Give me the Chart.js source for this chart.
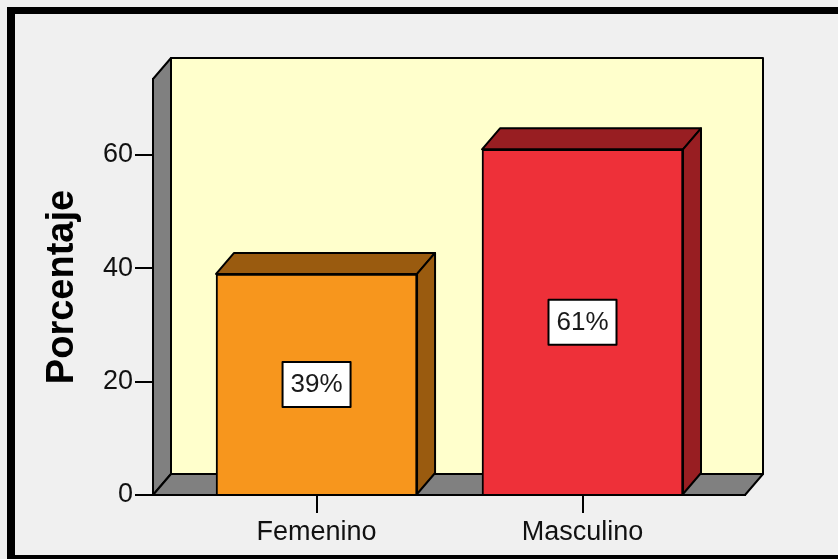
<!DOCTYPE html>
<html>
<head>
<meta charset="utf-8">
<title>Porcentaje por sexo</title>
<script src="https://cdn.jsdelivr.net/npm/chart.js@4.4.1/dist/chart.umd.min.js"></script>
<style>
  html, body { margin: 0; padding: 0; background: #f0f0f0; }
  #myChart { display: block; }
</style>
</head>
<body>
<canvas id="myChart" width="838" height="559"></canvas>
<script>
var categories = ['Femenino', 'Masculino'];
var percentages = [39, 61];
var valueLabels = ['39%', '61%'];
var yTicks = [0, 20, 40, 60];

var frontColors = ['#f7961d', '#ee3039'];
var darkColors = ['#9a5b0f', '#981e22'];
var fontFamily = '"Liberation Sans", Arial, sans-serif';

// depth of the 3d effect, in pixels.
var depthX = 18;
var depthY = -21;

function polygon(ctx, points, fill) {
  ctx.beginPath();
  ctx.moveTo(points[0][0], points[0][1]);
  for (var i = 1; i < points.length; i++) {
    ctx.lineTo(points[i][0], points[i][1]);
  }
  ctx.closePath();
  ctx.fillStyle = fill;
  ctx.fill();
  ctx.stroke();
}

// background, outer frame and the walls behind the bars.
var wallsPlugin = {
  id: 'walls',
  beforeDraw: function (chart) {
    var ctx = chart.ctx;
    var a = chart.chartArea;
    var w = chart.width, h = chart.height;

    ctx.save();
    ctx.fillStyle = '#f0f0f0';
    ctx.fillRect(0, 0, w, h);
    ctx.fillStyle = '#000';
    ctx.fillRect(7, 7, w - 7, 7);
    ctx.fillRect(7, 7, 8, h - 7);
    ctx.fillRect(7, h - 4, w - 7, 4);

    ctx.lineWidth = 2;
    ctx.strokeStyle = '#000';
    ctx.lineJoin = 'round';

    ctx.fillStyle = '#ffffcc';
    ctx.fillRect(a.left + depthX, a.top + depthY, a.right - a.left, a.bottom - a.top);
    ctx.strokeRect(a.left + depthX, a.top + depthY, a.right - a.left, a.bottom - a.top);

    polygon(ctx, [[a.left, a.top], [a.left + depthX, a.top + depthY],
      [a.left + depthX, a.bottom + depthY], [a.left, a.bottom]], '#808080');
    polygon(ctx, [[a.left, a.bottom], [a.left + depthX, a.bottom + depthY],
      [a.right + depthX, a.bottom + depthY], [a.right, a.bottom]], '#808080');
    ctx.restore();
  }
};

// top and side faces of the bars, plus the value boxes.
var barsPlugin = {
  id: 'bars3d',
  afterDatasetsDraw: function (chart) {
    var ctx = chart.ctx;
    var meta = chart.getDatasetMeta(0);

    ctx.save();
    ctx.lineWidth = 2;
    ctx.strokeStyle = '#000';
    ctx.lineJoin = 'round';

    meta.data.forEach(function (bar, i) {
      var p = bar.getProps(['x', 'y', 'base', 'width'], true);
      var l = p.x - p.width / 2;
      var r = p.x + p.width / 2;

      polygon(ctx, [[l, p.y], [l + depthX, p.y + depthY],
        [r + depthX, p.y + depthY], [r, p.y]], darkColors[i]);
      polygon(ctx, [[r, p.y], [r + depthX, p.y + depthY],
        [r + depthX, p.base + depthY], [r, p.base]], darkColors[i]);

      var cy = (p.y + p.base) / 2;
      ctx.fillStyle = '#fff';
      ctx.fillRect(p.x - 34, cy - 22, 68, 45);
      ctx.strokeRect(p.x - 34, cy - 22, 68, 45);
      ctx.fillStyle = '#1a1a1a';
      ctx.font = '26px ' + fontFamily;
      ctx.textAlign = 'center';
      ctx.textBaseline = 'middle';
      ctx.fillText(valueLabels[i], p.x, cy + 1);
    });
    ctx.restore();
  }
};

// create bar chart.
function createChart() {
  var points = categories.map(function (name, i) {
    return { x: i, y: percentages[i] };
  });

  new Chart(document.getElementById('myChart'), {
    type: 'bar',
    data: {
      datasets: [{
        data: points,
        backgroundColor: frontColors,
        borderColor: '#000',
        borderWidth: 2,
        barThickness: 201
      }]
    },
    options: {
      responsive: false,
      animation: false,
      devicePixelRatio: 1,
      layout: { padding: { left: 0, top: 79, right: 93, bottom: 0 } },
      plugins: {
        legend: { display: false },
        tooltip: { enabled: false }
      },
      scales: {
        x: {
          type: 'linear',
          min: -0.615,
          max: 1.611,
          offset: false,
          afterBuildTicks: function (scale) {
            scale.ticks = categories.map(function (name, i) { return { value: i }; });
          },
          afterFit: function (scale) { scale.height = 64; },
          grid: { offset: false, drawOnChartArea: false, color: '#000', lineWidth: 2, tickLength: 18 },
          border: { color: '#000', width: 2 },
          ticks: {
            callback: function (value) { return categories[value]; },
            font: { size: 27, family: fontFamily },
            color: '#111',
            padding: 3,
            maxRotation: 0,
            autoSkip: false
          }
        },
        y: {
          min: 0,
          max: 73.4,
          afterBuildTicks: function (scale) {
            scale.ticks = yTicks.map(function (v) { return { value: v }; });
          },
          afterFit: function (scale) { scale.width = 153; },
          grid: { drawOnChartArea: false, color: '#000', lineWidth: 2, tickLength: 18 },
          border: { color: '#000', width: 2 },
          ticks: {
            font: { size: 27, family: fontFamily },
            color: '#111',
            padding: 2
          },
          title: {
            display: true,
            text: 'Porcentaje',
            color: '#000',
            font: { size: 38, weight: 'bold', family: fontFamily },
            padding: { top: 40, bottom: 0 }
          }
        }
      }
    },
    plugins: [wallsPlugin, barsPlugin]
  });
}

createChart();
</script>
</body>
</html>
